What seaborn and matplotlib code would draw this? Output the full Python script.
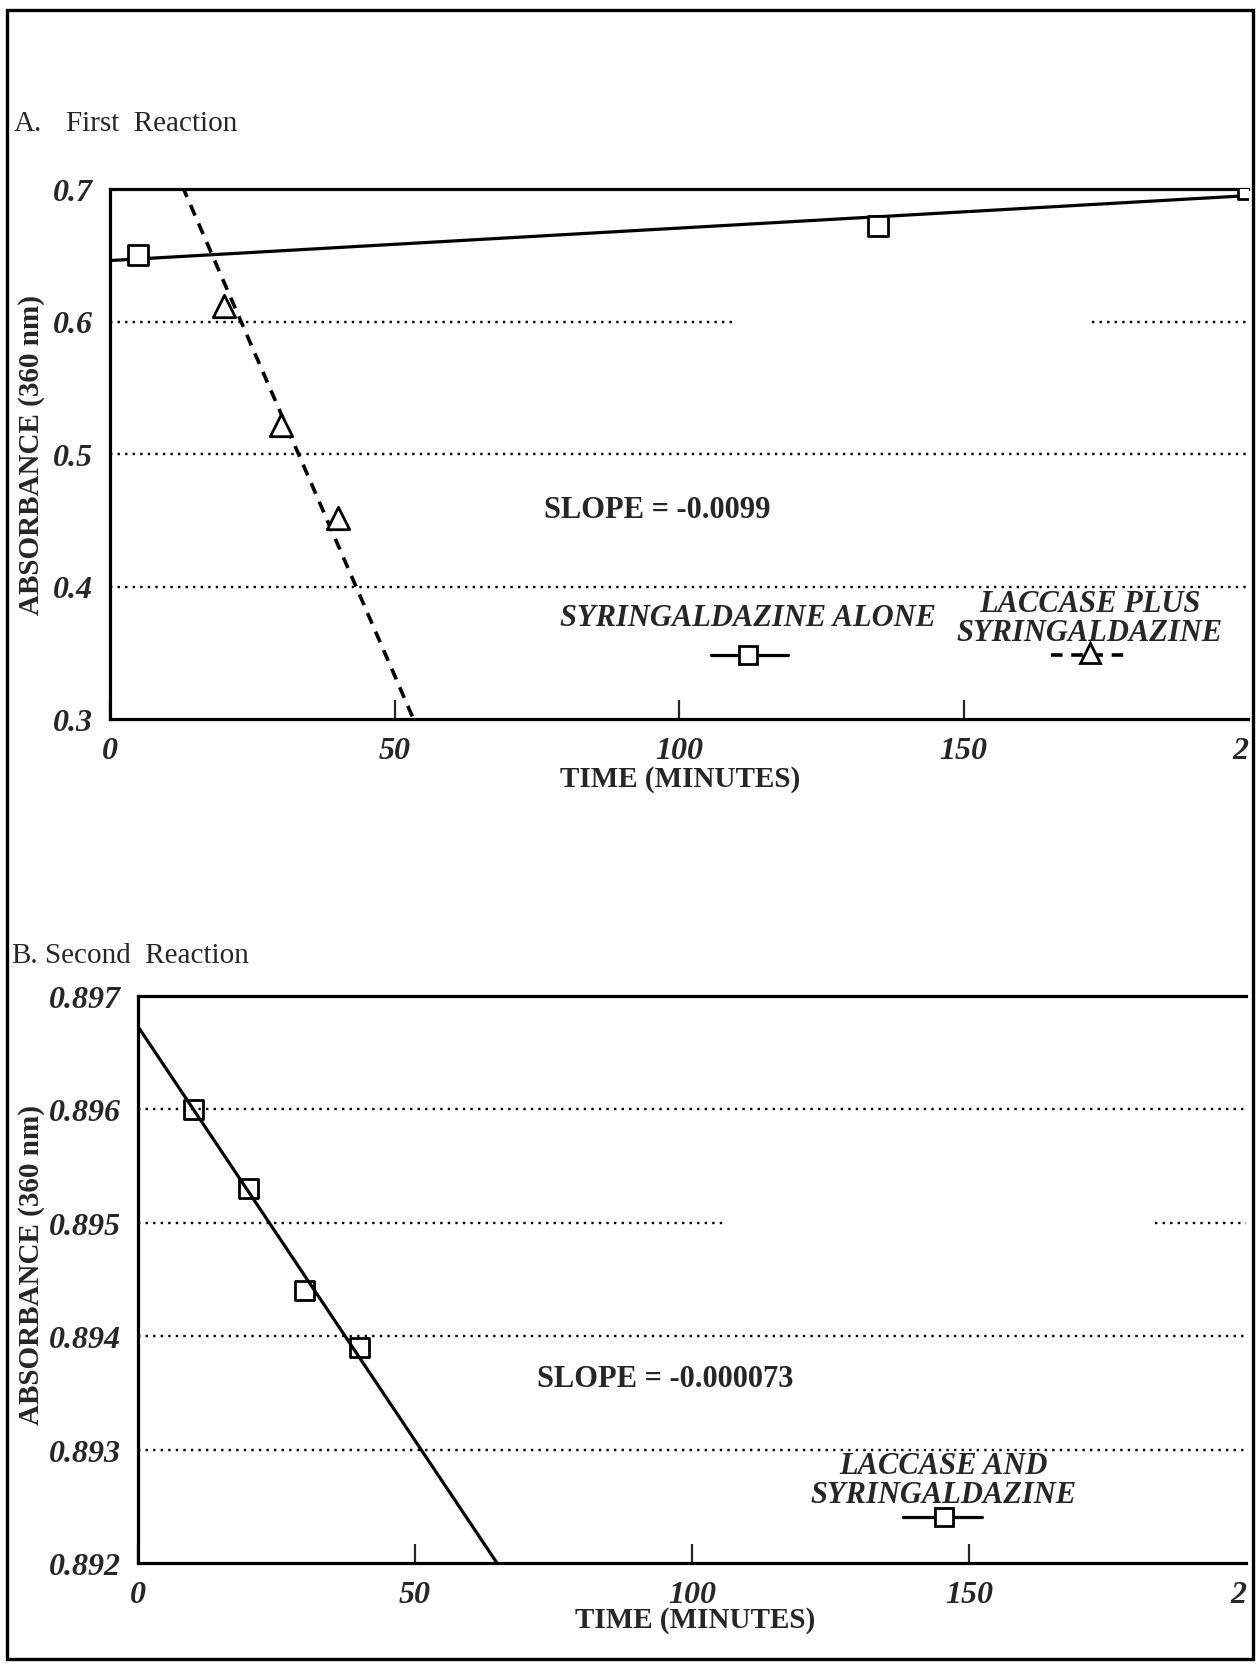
import matplotlib
matplotlib.use("Agg")
import matplotlib.pyplot as plt
import seaborn as sns
import numpy as np
import pandas as pd
from matplotlib.lines import Line2D
from matplotlib.patches import Rectangle
from matplotlib.ticker import FixedLocator, MultipleLocator

# ---- Panel A: first reaction ----
time_alone_a = [5, 135, 200]
abs_alone_a = [0.650, 0.672, 0.700]
time_laccase_a = [20, 30, 40]
abs_laccase_a = [0.612, 0.522, 0.452]
fit_alone_a = (0.646, 0.000245)      # intercept, slope
fit_laccase_a = (0.828, -0.0099)
yticks_a = [0.3, 0.4, 0.5, 0.6, 0.7]
ytick_labels_a = ["0.3", "0.4", "0.5", "0.6", "0.7"]

# ---- Panel B: second reaction ----
time_b = [10, 20, 30, 40]
abs_b = [0.8960, 0.8953, 0.8944, 0.8939]
fit_b = (0.89673, -0.000073)
yticks_b = [0.892, 0.893, 0.894, 0.895, 0.896, 0.897]
ytick_labels_b = ["0.892", "0.893", "0.894", "0.895", "0.896", "0.897"]

xticks = [0, 50, 100, 150, 200]
xtick_labels = ["0", "50", "100", "150", "2"]

slope_label_a = "SLOPE = -0.0099"
slope_label_b = "SLOPE = -0.000073"

sns.set_style("white")
plt.rcParams["font.family"] = ["Liberation Serif", "DejaVu Serif"]
plt.rcParams["mathtext.default"] = "regular"

W, H = 1260, 1665
fig = plt.figure(figsize=(W / 100, H / 100), dpi=100)
fig.patch.set_facecolor("white")


def fx(px):
    return px / W


def fy(py):
    return 1 - py / H


DOT = (0, (1.0, 2.2))
DASH = (0, (3.2, 2.4))
TICKFONT = dict(family="Liberation Serif", style="italic", weight="bold", size=23)


def style_axes(ax, xlim, ylim, yticks, ylabels, yminor):
    ax.set_xlim(*xlim)
    ax.set_ylim(*ylim)
    ax.set_facecolor("white")
    for side in ("left", "bottom", "top"):
        ax.spines[side].set_linewidth(2.3)
        ax.spines[side].set_color("black")
    ax.spines["right"].set_visible(False)
    ax.xaxis.set_major_locator(FixedLocator(xticks))
    ax.set_xticklabels(xtick_labels, fontdict=TICKFONT)
    # the last label sits against the page edge
    ax.get_xticklabels()[-1].set_horizontalalignment("right")
    ax.yaxis.set_major_locator(FixedLocator(yticks))
    ax.set_yticklabels(ylabels, fontdict=TICKFONT)
    ax.yaxis.set_minor_locator(MultipleLocator(yminor))
    ax.tick_params(axis="x", which="major", direction="in", length=14, width=1.6,
                   pad=12, top=False, bottom=True)
    ax.tick_params(axis="y", which="major", direction="in", length=14, width=1.8,
                   pad=12, right=False)
    ax.tick_params(axis="y", which="minor", direction="in", length=7, width=1.6,
                   right=False)
    ax.xaxis.get_major_ticks()[-1].tick1line.set_visible(False)
    ax.set_xlabel("")
    ax.set_ylabel("")


def draw_grid(ax, segments):
    for yv, spans in segments.items():
        for x0, x1 in spans:
            ax.hlines(yv, x0, x1, colors="black", linestyles=DOT, linewidth=1.7, zorder=1)


def fit_frame(intercept, slope):
    xs = np.array([0.0, 200.0])
    return pd.DataFrame({"t": xs, "a": intercept + slope * xs})


# ================= Panel A =================
ax_a = fig.add_axes([fx(110), fy(720), fx(1248) - fx(110), fy(190) - fy(720)])
style_axes(ax_a, (0, 200), (0.3, 0.7), yticks_a, ytick_labels_a, 0.05)
draw_grid(ax_a, {0.6: [(0, 109.5), (172.6, 200)], 0.5: [(0, 200)], 0.4: [(0, 200)]})

fa = fit_frame(*fit_alone_a)
sns.lineplot(data=fa, x="t", y="a", ax=ax_a, color="black", linewidth=2.3, zorder=3)
fl = fit_frame(*fit_laccase_a)
sns.lineplot(data=fl, x="t", y="a", ax=ax_a, color="black", linewidth=2.6,
             linestyle=DASH, zorder=3)
sns.scatterplot(x=time_alone_a, y=abs_alone_a, ax=ax_a, marker="s", s=190,
                facecolor="white", edgecolor="black", linewidth=2.0, zorder=4)
sns.scatterplot(x=time_laccase_a, y=abs_laccase_a, ax=ax_a, marker="^", s=260,
                facecolor="white", edgecolor="black", linewidth=2.0, zorder=4)
ax_a.set_xlabel("")
ax_a.set_ylabel("")

ax_a.text(0.481, 0.395, slope_label_a, transform=ax_a.transAxes, ha="center",
          va="center", fontsize=22, weight="bold")
ax_a.text(0.561, 0.191, "SYRINGALDAZINE ALONE", transform=ax_a.transAxes,
          ha="center", va="center", fontsize=22, style="italic", weight="bold")
ax_a.text(0.861, 0.191, "LACCASE PLUS\nSYRINGALDAZINE", transform=ax_a.transAxes,
          ha="center", va="center", fontsize=22, style="italic", weight="bold",
          linespacing=1.0)
# key samples
ax_a.add_line(Line2D([0.528, 0.596], [0.121, 0.121], transform=ax_a.transAxes,
                     color="black", linewidth=2.3, zorder=3))
ax_a.add_line(Line2D([0.561], [0.121], transform=ax_a.transAxes, marker="s",
                     markersize=13, markerfacecolor="white", markeredgecolor="black",
                     markeredgewidth=2.0, linestyle="none", zorder=4))
ax_a.add_line(Line2D([0.827, 0.892], [0.121, 0.121], transform=ax_a.transAxes,
                     color="black", linewidth=2.6, linestyle=DASH, zorder=3))
ax_a.add_line(Line2D([0.861], [0.124], transform=ax_a.transAxes, marker="^",
                     markersize=15, markerfacecolor="white", markeredgecolor="black",
                     markeredgewidth=2.0, linestyle="none", zorder=4))

fig.text(fx(14), fy(124), "A.", fontsize=21, ha="left", va="center")
fig.text(fx(66), fy(124), "First  Reaction", fontsize=21, ha="left", va="center")
fig.text(fx(32), fy(455), "ABSORBANCE (360 nm)", rotation=90, ha="center",
         va="center", fontsize=21, weight="bold")
fig.text(fx(680), fy(780), "TIME (MINUTES)", ha="center", va="center",
         fontsize=21, weight="bold")

# ================= Panel B =================
ax_b = fig.add_axes([fx(138), fy(1564), fx(1246) - fx(138), fy(997) - fy(1564)])
style_axes(ax_b, (0, 200), (0.892, 0.897), yticks_b, ytick_labels_b, 0.0005)
draw_grid(ax_b, {0.896: [(0, 200)], 0.895: [(0, 106.3), (183.6, 200)],
                 0.894: [(0, 200)], 0.893: [(0, 200)]})

fb = fit_frame(*fit_b)
sns.lineplot(data=fb, x="t", y="a", ax=ax_b, color="black", linewidth=2.3, zorder=3)
sns.scatterplot(x=time_b, y=abs_b, ax=ax_b, marker="s", s=190,
                facecolor="none", edgecolor="black", linewidth=2.0, zorder=4)
ax_b.set_xlabel("")
ax_b.set_ylabel("")

ax_b.text(0.476, 0.325, slope_label_b, transform=ax_b.transAxes, ha="center",
          va="center", fontsize=22, weight="bold")
ax_b.text(0.727, 0.146, "LACCASE AND\nSYRINGALDAZINE", transform=ax_b.transAxes,
          ha="center", va="center", fontsize=22, style="italic", weight="bold",
          linespacing=1.0)
ax_b.add_line(Line2D([0.690, 0.762], [0.081, 0.081], transform=ax_b.transAxes,
                     color="black", linewidth=2.3, zorder=3))
ax_b.add_line(Line2D([0.727], [0.081], transform=ax_b.transAxes, marker="s",
                     markersize=13, markerfacecolor="white", markeredgecolor="black",
                     markeredgewidth=2.0, linestyle="none", zorder=4))

fig.text(fx(11), fy(956), "B.", fontsize=21, ha="left", va="center")
fig.text(fx(45), fy(956), "Second  Reaction", fontsize=21, ha="left", va="center")
fig.text(fx(32), fy(1265), "ABSORBANCE (360 nm)", rotation=90, ha="center",
         va="center", fontsize=21, weight="bold")
fig.text(fx(695), fy(1621), "TIME (MINUTES)", ha="center", va="center",
         fontsize=21, weight="bold")

# ---- page frame ----
fig.add_artist(Rectangle((fx(7), fy(1660)), fx(1253) - fx(7), fy(11) - fy(1660),
                         transform=fig.transFigure, facecolor="none",
                         edgecolor="black", linewidth=2.4, zorder=21))

fig.savefig("out.png", dpi=100, facecolor="white")
